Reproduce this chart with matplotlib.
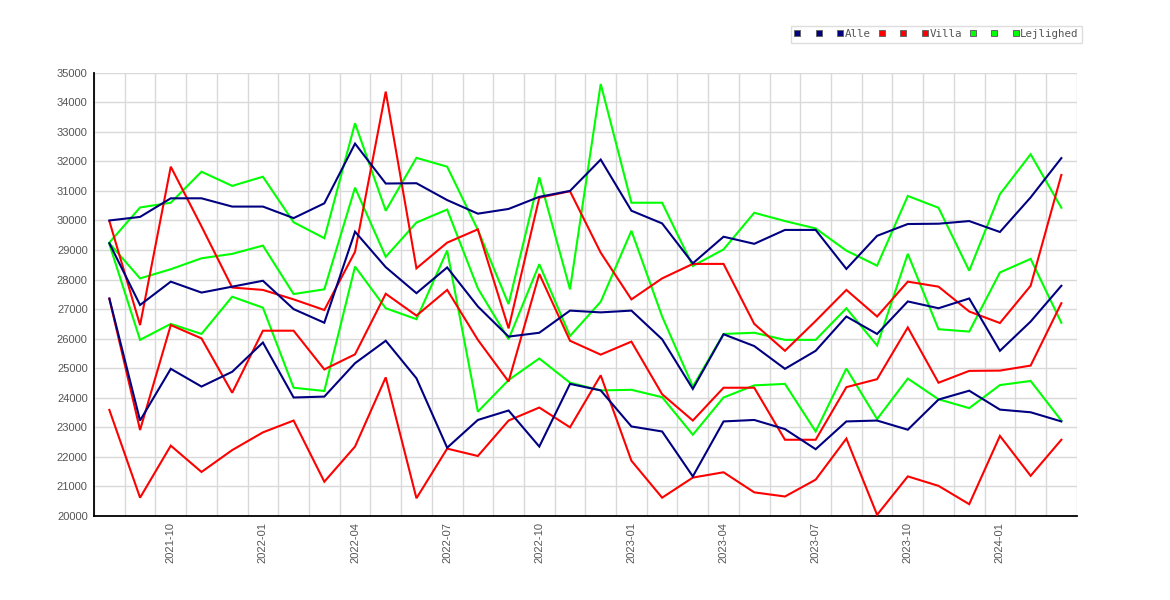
import matplotlib
matplotlib.use("Agg")
import matplotlib.pyplot as plt
from matplotlib.lines import Line2D

months = ['2021-08', '2021-09', '2021-10', '2021-11', '2021-12', '2022-01', '2022-02', '2022-03',
          '2022-04', '2022-05', '2022-06', '2022-07', '2022-08', '2022-09', '2022-10', '2022-11',
          '2022-12', '2023-01', '2023-02', '2023-03', '2023-04', '2023-05', '2023-06', '2023-07',
          '2023-08', '2023-09', '2023-10', '2023-11', '2023-12', '2024-01', '2024-02', '2024-03']

alle_high = [30000, 30120, 30750, 30750, 30470, 30470, 30080, 30580, 32600, 31250, 31260, 30690,
             30230, 30390, 30800, 31000, 32060, 30330, 29900, 28550, 29450, 29210, 29680, 29680,
             28360, 29480, 29880, 29890, 29980, 29610, 30780, 32110]
alle_mid = [29230, 27140, 27930, 27560, 27760, 27960, 27000, 26540, 29620, 28420, 27540, 28410,
            27090, 26070, 26200, 26950, 26890, 26950, 25980, 24300, 26150, 25750, 24980, 25590,
            26750, 26160, 27260, 27030, 27360, 25590, 26580, 27790]
alle_low = [27360, 23230, 24980, 24380, 24880, 25870, 24010, 24040, 25170, 25930, 24660, 22310,
            23250, 23570, 22350, 24470, 24250, 23030, 22860, 21340, 23200, 23250, 22940, 22260,
            23200, 23230, 22920, 23940, 24240, 23600, 23510, 23200]

villa_high = [29980, 26460, 31820, 29800, 27730, 27650, 27330, 26970, 28940, 34360, 28380, 29250,
              29700, 26350, 30770, 30990, 28910, 27330, 28040, 28530, 28530, 26500, 25590, 26600,
              27650, 26750, 27930, 27760, 26920, 26530, 27790, 31540]
villa_mid = [27350, 22910, 26460, 26010, 24170, 26270, 26270, 24960, 25470, 27520, 26780, 27650,
             25960, 24550, 28190, 25930, 25460, 25900, 24120, 23230, 24340, 24340, 22580, 22580,
             24360, 24630, 26380, 24510, 24910, 24920, 25090, 27200]
villa_low = [23590, 20620, 22380, 21490, 22230, 22830, 23230, 21160, 22350, 24690, 20600, 22280,
             22030, 23230, 23670, 23000, 24760, 21870, 20620, 21300, 21480, 20800, 20660, 21230,
             22620, 20040, 21340, 21020, 20400, 22710, 21360, 22580]

lejl_high = [29250, 30440, 30600, 31650, 31170, 31480, 29940, 29400, 33290, 30330, 32120, 31820,
             29680, 27170, 31460, 27670, 34620, 30600, 30600, 28460, 29020, 30260, 29980, 29730,
             28980, 28470, 30830, 30430, 28300, 30890, 32240, 30430]
lejl_mid = [29230, 28040, 28350, 28720, 28870, 29150, 27510, 27670, 31110, 28770, 29930, 30370,
            27700, 25980, 28520, 26090, 27250, 29650, 26750, 24380, 26160, 26200, 25960, 25960,
            27030, 25770, 28870, 26320, 26240, 28240, 28700, 26540]
lejl_low = [29200, 25960, 26500, 26160, 27420, 27050, 24340, 24230, 28440, 27030, 26660, 28980,
            23530, 24600, 25330, 24510, 24250, 24270, 24020, 22750, 24010, 24420, 24470, 22860,
            24990, 23280, 24650, 23950, 23650, 24430, 24570, 23230]

series_names = ['Alle', 'Villa', 'Lejlighed']
series_colors = ['#000080', '#ff0000', '#00ff00']
series_data = [[alle_high, alle_mid, alle_low],
               [villa_high, villa_mid, villa_low],
               [lejl_high, lejl_mid, lejl_low]]

fig = plt.figure(figsize=(11.7, 6.0), dpi=100)
ax = fig.add_axes([94 / 1170, 1 - 516 / 600, (1076.7 - 94) / 1170, (516 - 72.7) / 600])

x = list(range(len(months)))
# draw green first, navy last (navy on top)
for k in [2, 1, 0]:
    for vals in series_data[k]:
        ax.plot(x, vals, color=series_colors[k], lw=1.5, solid_joinstyle='miter', zorder=3 + (2 - k))

ax.set_xlim(-0.5, len(months) - 0.5)
ax.set_ylim(20000, 35000)
ax.set_yticks(range(20000, 35001, 1000))
ax.set_xticks([i for i in x if months[i][5:] in ('01', '04', '07', '10')])
ax.set_xticklabels([months[i] for i in x if months[i][5:] in ('01', '04', '07', '10')],
                   rotation=90)
ax.set_xticks([i + 0.5 for i in range(-1, len(months))], minor=True)

ax.grid(False)
ax.grid(True, which='minor', axis='x', color='#d9d9d9', lw=1.0, zorder=0)
ax.grid(True, which='major', axis='y', color='#d9d9d9', lw=1.0, zorder=0)
ax.set_axisbelow(True)

ax.tick_params(axis='both', which='both', length=0, labelsize=8, labelcolor='#555555')
ax.tick_params(axis='y', pad=4.5)
ax.tick_params(axis='x', pad=4.5)
for lab in ax.get_xticklabels() + ax.get_yticklabels():
    lab.set_family('Liberation Sans')

for s in ['top', 'right']:
    ax.spines[s].set_visible(False)
for s in ['left', 'bottom']:
    ax.spines[s].set_color('black')
    ax.spines[s].set_linewidth(1.3)

handles = []
labels = []
for name, col in zip(series_names, series_colors):
    for j in range(3):
        handles.append(Line2D([], [], linestyle='none', marker='s', markersize=5,
                              markerfacecolor=col, markeredgecolor='#666666', markeredgewidth=0.7))
        labels.append(name if j == 2 else ' ')

leg = fig.legend(handles, labels, loc='upper right', bbox_to_anchor=(1082 / 1170, 1 - 26 / 600),
                 ncol=9, frameon=True, fancybox=False, framealpha=1, edgecolor='#dddddd',
                 prop={'family': 'DejaVu Sans Mono', 'size': 7.8}, handlelength=0.6,
                 handletextpad=0.1, columnspacing=0.7, borderpad=0.3, borderaxespad=0)
for t in leg.get_texts():
    t.set_color('#555555')
leg.get_frame().set_linewidth(1.0)

fig.savefig('out.png', dpi=100, facecolor='white')
